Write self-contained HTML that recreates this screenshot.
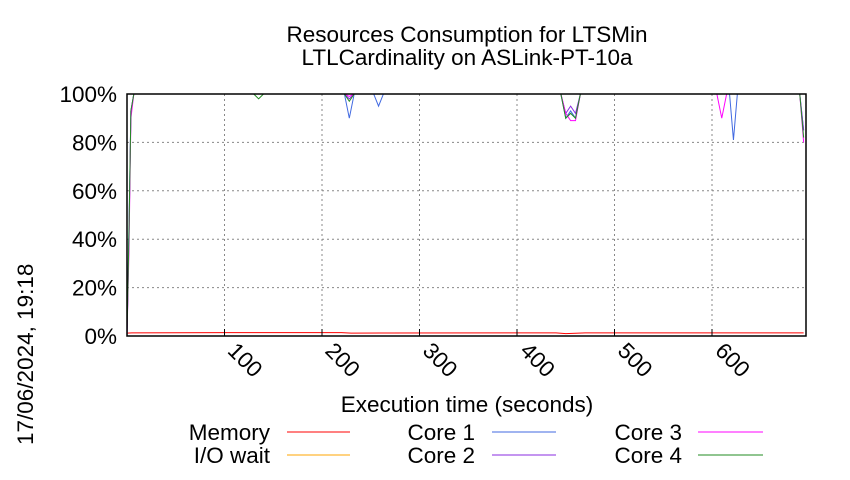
<!DOCTYPE html>
<html><head><meta charset="utf-8"><style>
body{margin:0;background:#fff;font-family:"Liberation Sans",sans-serif}
svg text{font-family:"Liberation Sans",sans-serif;fill:#000}
</style></head><body>
<svg id="c" width="850" height="475" viewBox="0 0 850 475">
<text x="467" y="42" font-size="22.5" text-anchor="middle">Resources Consumption for LTSMin</text>
<text x="467" y="65" font-size="22.5" text-anchor="middle">LTLCardinality on ASLink-PT-10a</text>
<text transform="translate(33,445) rotate(-90)" font-size="22.5">17/06/2024, 19:18</text>
<text x="467" y="412" font-size="22.5" text-anchor="middle">Execution time (seconds)</text>
<g id="grid"></g><g id="series"></g><g id="axes"></g>
<g font-size="22.5">
<text x="270" y="440" text-anchor="end">Memory</text>
<line x1="287" y1="432" x2="350" y2="432" stroke="#ff0000"/>
<text x="270" y="463" text-anchor="end">I/O wait</text>
<line x1="287" y1="455" x2="350" y2="455" stroke="#ffa500"/>
<text x="475" y="440" text-anchor="end">Core 1</text>
<line x1="492" y1="432" x2="556" y2="432" stroke="#4169e1"/>
<text x="475" y="463" text-anchor="end">Core 2</text>
<line x1="492" y1="455" x2="556" y2="455" stroke="#8a2be2"/>
<text x="682" y="440" text-anchor="end">Core 3</text>
<line x1="698" y1="432" x2="763" y2="432" stroke="#ff00ff"/>
<text x="682" y="463" text-anchor="end">Core 4</text>
<line x1="698" y1="455" x2="763" y2="455" stroke="#228b22"/>
</g>
</svg>
<script>
const xTicks=[100,200,300,400,500,600];
const yTicks=[0,20,40,60,80,100];
const times=[0,2,4,7,130,135,140,223,228,233,253,258,263,445,450,455,460,465,605,610,615,618,622,626,690,694];
const core1=[0,45,93,100,100,100,100,100,90,100,100,95,100,100,90,93,90,100,100,100,100,100,81,100,100,85];
const core2=[0,40,93,100,100,100,100,100,98,100,100,100,100,100,92,95,92,100,100,100,100,100,100,100,100,85];
const core3=[0,35,90,100,100,100,100,100,99,100,100,100,100,100,92,89,89,100,100,90,100,100,100,100,100,80];
const core4=[0,42,93,100,100,98,100,100,97,100,100,100,100,100,90,92,90,100,100,100,100,100,100,100,100,82];
const memTimes=[0,5,100,220,230,440,450,470,690,694];
const memory=[1.2,1.3,1.4,1.4,1.2,1.3,1.0,1.3,1.3,1.3];
const ioWait=[0,0,0,0,0,0,0,0,0,0];
const X0=127,X1=806,Y0=336,Y1=94;
const sx=t=>X0+t*0.975, sy=v=>Y0-(v/100)*(Y0-Y1);
const ns="http://www.w3.org/2000/svg";
function mk(tag,attrs,parent){const e=document.createElementNS(ns,tag);for(const k in attrs)e.setAttribute(k,attrs[k]);document.getElementById(parent).appendChild(e);return e;}
xTicks.forEach(t=>{
 const l=mk('line',{x1:sx(t),x2:sx(t),y1:Y1,y2:Y0,stroke:'#888','stroke-dasharray':'2,3'},'grid');
 
 
 const k=mk('line',{x1:sx(t),x2:sx(t),y1:Y0,y2:Y0-7,stroke:'#000'},'axes');
 
 
 const tx=mk('text',{x:0,y:0,'font-size':22.5,transform:`translate(${sx(t)+2},${Y0+16}) rotate(45)`},'axes');
 tx.textContent=t;
 
 
});
yTicks.forEach(v=>{
 if(v>0&&v<100){const l=mk('line',{x1:X0,x2:X1,y1:sy(v),y2:sy(v),stroke:'#888','stroke-dasharray':'2,3'},'grid');
 
 }
 const tx=mk('text',{x:X0-10,y:sy(v)+8,'font-size':22.5,'text-anchor':'end'},'axes');
 tx.textContent=v+'%';
 
 
});
const fr=mk('rect',{x:X0,y:Y1,width:X1-X0,height:Y0-Y1,fill:'none',stroke:'#000','stroke-width':1.5},'axes');


function line(ts,vals,color,name){
 const p=mk('polyline',{points:ts.map((t,i)=>sx(t)+','+sy(vals[i])).join(' '),fill:'none',stroke:color,'stroke-width':1},'series');
 
 
}
line(memTimes,ioWait,'#ffa500','io-wait-line');
line(memTimes,memory,'#ff0000','memory-line');
line(times,core1,'#4169e1','core1-line');
line(times,core2,'#8a2be2','core2-line');
line(times,core3,'#ff00ff','core3-line');
line(times,core4,'#228b22','core4-line');
</script>
</body></html>
